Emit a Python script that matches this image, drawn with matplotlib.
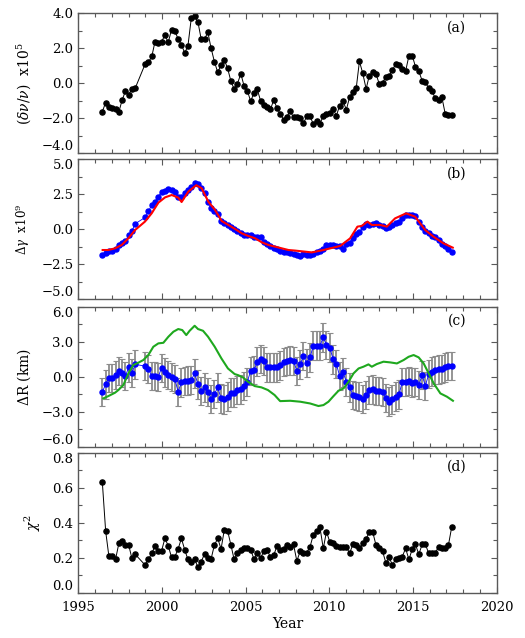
import matplotlib
matplotlib.use('Agg')
import matplotlib.pyplot as plt
from matplotlib.ticker import MultipleLocator, FuncFormatter
import numpy as np

plt.rcParams['font.family'] = ['DejaVu Serif']
plt.rcParams['mathtext.fontset'] = 'dejavuserif'

# observation epochs (72-day series, gap in 1998)
year = [1996.43, 1996.63, 1996.82, 1997.02, 1997.22, 1997.42, 1997.61, 1997.81, 1998.01, 1998.20, 1998.40,
        1998.99, 1999.19, 1999.39, 1999.58, 1999.78, 1999.97, 2000.17, 2000.37, 2000.57, 2000.77,
        2000.96, 2001.16, 2001.36, 2001.55, 2001.75, 2001.95, 2002.15, 2002.34, 2002.54, 2002.74,
        2002.93, 2003.13, 2003.33, 2003.53, 2003.72, 2003.92, 2004.12, 2004.31, 2004.51, 2004.71,
        2004.91, 2005.10, 2005.30, 2005.50, 2005.69, 2005.89, 2006.09, 2006.29, 2006.48, 2006.68,
        2006.88, 2007.07, 2007.27, 2007.47, 2007.66, 2007.86, 2008.06, 2008.26, 2008.45, 2008.65,
        2008.85, 2009.04, 2009.24, 2009.44, 2009.64, 2009.83, 2010.03, 2010.23, 2010.42, 2010.62,
        2010.82, 2011.02, 2011.21, 2011.41, 2011.61, 2011.80, 2012.00, 2012.20, 2012.39, 2012.59,
        2012.79, 2012.99, 2013.18, 2013.38, 2013.58, 2013.77, 2013.97, 2014.17, 2014.36, 2014.56,
        2014.76, 2014.96, 2015.15, 2015.35, 2015.55, 2015.74, 2015.94, 2016.14, 2016.33, 2016.53,
        2016.73, 2016.93, 2017.12, 2017.32]

# (a) frequency shift x1e5
dnu = [-1.62, -1.10, -1.35, -1.41, -1.48, -1.64, -0.97, -0.45, -0.65, -0.31, -0.27,
       1.10, 1.20, 1.54, 2.38, 2.30, 2.36, 2.76, 2.34, 3.07, 3.00,
       2.53, 2.20, 1.73, 2.15, 3.73, 3.83, 3.49, 2.53, 2.53, 2.91,
       2.02, 1.24, 0.63, 1.05, 1.35, 0.86, 0.11, -0.32, -0.02, 0.55,
       -0.17, -0.42, -1.03, -0.53, -0.34, -0.99, -1.24, -1.37, -1.49, -0.95,
       -1.43, -1.75, -2.08, -1.90, -1.60, -1.94, -1.94, -2.00, -2.29, -1.89,
       -1.89, -2.32, -2.17, -2.32, -1.85, -1.75, -1.71, -1.47, -1.85, -1.28,
       -1.03, -1.50, -0.80, -0.51, -0.27, 1.26, 0.57, -0.32, 0.44, 0.63,
       0.53, -0.04, 0.02, 0.38, 0.44, 0.76, 1.10, 1.05, 0.82, 0.69,
       1.58, 1.58, 0.95, 0.69, 0.15, 0.06, -0.27, -0.42, -0.86, -0.95,
       -0.80, -1.75, -1.79, -1.79]

# (b) delta gamma x1e9 (blue points) and model (red)
dgam = [-1.83, -1.67, -1.55, -1.52, -1.43, -1.12, -1.00, -0.84, -0.41, -0.12, 0.40,
        0.85, 1.30, 1.74, 1.98, 2.33, 2.69, 2.76, 2.85, 2.80, 2.64,
        2.33, 2.28, 2.57, 2.80, 3.00, 3.28, 3.21, 2.93, 2.57, 1.98,
        1.50, 1.33, 1.07, 0.59, 0.43, 0.31, 0.19, 0.02, -0.12, -0.24,
        -0.41, -0.41, -0.41, -0.53, -0.57, -0.57, -0.93, -1.07, -1.17, -1.31,
        -1.43, -1.52, -1.60, -1.64, -1.71, -1.76, -1.85, -1.90, -1.80, -1.85,
        -1.83, -1.75, -1.63, -1.58, -1.40, -1.15, -1.12, -1.15, -1.17, -1.17,
        -1.43, -1.08, -0.95, -0.60, -0.35, -0.20, 0.15, 0.35, 0.31, 0.40,
        0.43, 0.33, 0.20, 0.08, 0.15, 0.33, 0.45, 0.53, 0.80, 1.00,
        1.02, 1.00, 0.92, 0.55, 0.15, -0.10, -0.30, -0.47, -0.58, -0.80,
        -1.02, -1.22, -1.40, -1.60]
model_yr = [1996.45, 1996.79, 1997.19, 1997.59, 1997.99, 1998.39, 1998.98, 1999.38, 1999.78,
            2000.18, 2000.58, 2000.97, 2001.17, 2001.57, 2002.05, 2002.37, 2002.77, 2003.17,
            2003.57, 2003.97, 2004.37, 2004.77, 2005.16, 2005.56, 2005.96, 2006.36, 2006.76,
            2007.16, 2007.56, 2007.95, 2008.95, 2009.65, 2010.65, 2011.24, 2011.68, 2011.94,
            2012.28, 2012.54, 2013.04, 2013.44, 2013.93, 2014.59, 2015.13, 2015.73, 2016.23,
            2016.82, 2017.38]
model_gam = [-1.48, -1.48, -1.36, -1.12, -0.64, -0.05, 0.55, 1.14, 1.90,
             2.28, 2.45, 2.26, 1.95, 2.69, 3.15, 2.93, 1.97, 1.38,
             0.59, 0.31, 0.02, -0.29, -0.48, -0.64, -0.93, -1.12, -1.24,
             -1.36, -1.48, -1.52, -1.65, -1.48, -1.19, -0.65, 0.19, 0.24,
             0.55, 0.31, 0.31, 0.19, 0.78, 1.14, 0.90, -0.05, -0.53,
             -1.00, -1.31]

# (c) radius change in km (blue points with errors) and comparison curve (green)
dR = [-1.29, -0.66, -0.09, -0.09, 0.14, 0.49, 0.34, 0.06, 0.80, 0.34, 1.06,
      0.91, 0.66, 0.06, 0.06, 0.00, 0.77, 0.37, 0.14, 0.00, -0.20,
      -1.29, -0.49, -0.37, -0.34, -0.29, 0.29, -0.66, -1.23, -0.91, -1.29,
      -1.91, -1.49, -0.91, -1.86, -1.94, -1.71, -1.37, -1.37, -1.14, -1.09,
      -0.80, -0.43, 0.51, 0.57, 1.29, 1.51, 1.34, 0.80, 0.80, 0.80,
      0.80, 0.97, 1.25, 1.36, 1.40, 1.37, 0.49, 1.06, 1.77, 1.20,
      1.66, 2.66, 2.66, 2.66, 3.37, 2.71, 2.49, 1.49, 1.09, 0.06,
      0.37, -0.43, -0.91, -1.57, -1.66, -1.71, -1.91, -1.57, -1.14, -1.09,
      -1.20, -1.20, -1.29, -1.80, -2.14, -1.94, -1.71, -1.51, -0.43, -0.43,
      -0.37, -0.51, -0.43, -0.71, 0.14, -0.80, 0.23, 0.43, 0.57, 0.63,
      0.66, 0.80, 0.91, 0.91]
dR_err = 1.22
green_yr = [1996.49, 1996.79, 1997.19, 1997.39, 1997.69, 1997.99, 1998.28, 1998.58, 1998.88,
            1999.18, 1999.48, 1999.78, 2000.08, 2000.38, 2000.68, 2000.97, 2001.21, 2001.45,
            2001.65, 2001.95, 2002.15, 2002.45, 2002.75, 2003.15, 2003.55, 2003.94, 2004.34,
            2004.54, 2004.84, 2005.14, 2005.54, 2005.94, 2006.33, 2006.73, 2007.06, 2007.66,
            2008.26, 2008.85, 2009.35, 2009.65, 2009.95, 2010.25, 2010.55, 2010.85, 2011.15,
            2011.45, 2011.75, 2012.04, 2012.34, 2012.54, 2012.84, 2013.24, 2013.64, 2014.04,
            2014.44, 2014.74, 2015.04, 2015.34, 2015.64, 2015.94, 2016.24, 2016.64, 2017.03,
            2017.39]
green_val = [-1.86, -1.66, -1.37, -1.14, -0.71, 0.29, 1.00, 1.20, 1.43,
             1.86, 2.57, 2.86, 2.91, 3.43, 3.86, 4.09, 4.00, 3.57,
             3.94, 4.37, 4.09, 3.94, 3.43, 2.57, 1.57, 0.71, 0.23,
             0.14, -0.06, -0.43, -0.80, -0.91, -1.14, -1.57, -2.09, -2.06,
             -2.14, -2.29, -2.51, -2.43, -2.14, -1.66, -1.20, -1.00, -0.43,
             0.29, 0.71, 0.86, 1.06, 0.86, 1.09, 1.29, 1.23, 1.14,
             1.43, 1.71, 1.86, 1.66, 1.14, 0.29, -0.57, -1.43, -1.71,
             -2.06]

# (d) reduced chi-square
chi2 = [0.634, 0.352, 0.211, 0.210, 0.190, 0.282, 0.295, 0.272, 0.272, 0.196, 0.219,
        0.158, 0.192, 0.225, 0.267, 0.238, 0.238, 0.310, 0.269, 0.202, 0.206,
        0.250, 0.310, 0.244, 0.190, 0.177, 0.190, 0.145, 0.177, 0.221, 0.196,
        0.192, 0.272, 0.310, 0.250, 0.358, 0.354, 0.272, 0.190, 0.225, 0.244,
        0.253, 0.257, 0.244, 0.192, 0.225, 0.196, 0.240, 0.244, 0.202, 0.215,
        0.269, 0.244, 0.250, 0.272, 0.259, 0.276, 0.181, 0.238, 0.225, 0.229,
        0.263, 0.330, 0.352, 0.373, 0.253, 0.349, 0.290, 0.282, 0.267, 0.259,
        0.259, 0.263, 0.225, 0.276, 0.272, 0.253, 0.286, 0.305, 0.349, 0.349,
        0.272, 0.257, 0.238, 0.171, 0.202, 0.158, 0.192, 0.196, 0.206, 0.253,
        0.190, 0.250, 0.276, 0.219, 0.276, 0.278, 0.225, 0.225, 0.225, 0.263,
        0.253, 0.253, 0.272, 0.377]

frame_col = '0.35'


def fmt1(v, pos):
    return ('%.1f' % v).replace('-', '\u2212')


fig = plt.figure(figsize=(5.25, 6.38), dpi=100)
left, width, height = 0.1493, 0.7966, 0.2194
bottoms = [0.7597, 0.5309, 0.2998, 0.0710]
axes = [fig.add_axes([left, b, width, height]) for b in bottoms]

for ax in axes:
    ax.set_xlim(1995, 2020)
    ax.xaxis.set_major_locator(MultipleLocator(5))
    ax.xaxis.set_minor_locator(MultipleLocator(1))
    ax.tick_params(which='both', direction='in', top=True, right=True,
                   color=frame_col, width=0.8, labelsize=9.5)
    ax.tick_params(which='major', length=4)
    ax.tick_params(which='minor', length=3)
    ax.tick_params(axis='x', pad=6)
    ax.yaxis.set_major_formatter(FuncFormatter(fmt1))
    for s in ax.spines.values():
        s.set_color(frame_col)
        s.set_linewidth(1.0)
    if ax is not axes[-1]:
        ax.tick_params(labelbottom=False)

# (a)
ax = axes[0]
ax.plot(year, dnu, '-o', color='black', lw=0.7, ms=3.7)
ax.set_ylim(-4, 4)
ax.yaxis.set_major_locator(MultipleLocator(2))
ax.yaxis.set_minor_locator(MultipleLocator(1))
ax.set_ylabel(r'$(\delta\nu/\nu)$  x10$^5$', fontsize=10)
ax.yaxis.set_label_coords(-0.108, 0.5)
ax.text(0.905, 0.9, '(a)', transform=ax.transAxes, ha='center', va='center', fontsize=10)

# (b)
ax = axes[1]
ax.plot(year, dgam, '-o', color='#0000ff', lw=0.6, ms=3.6)
ax.plot(model_yr, model_gam, '-', color='#ff0000', lw=1.5)
ax.set_ylim(-5, 5)
ax.yaxis.set_major_locator(MultipleLocator(2.5))
ax.yaxis.set_minor_locator(MultipleLocator(1.25))
ax.set_ylabel(r'$\Delta\gamma$  x10$^9$', fontsize=8.5)
ax.yaxis.set_label_coords(-0.112, 0.5)
ax.text(0.905, 0.9, '(b)', transform=ax.transAxes, ha='center', va='center', fontsize=10)

# (c)
ax = axes[2]
eb = ax.errorbar(year, dR, yerr=dR_err, fmt='none', ecolor='0.55', elinewidth=1.3,
                 capsize=2.2, capthick=0.8)
for cap in eb[1]:
    cap.set_color('0.15')
ax.plot(year, dR, '-o', color='#0000ff', lw=0.6, ms=3.6)
ax.plot(green_yr, green_val, '-', color='#1ea81e', lw=1.5)
ax.set_ylim(-6, 6)
ax.yaxis.set_major_locator(MultipleLocator(3))
ax.yaxis.set_minor_locator(MultipleLocator(1.5))
ax.set_ylabel(r'$\Delta$R (km)', fontsize=10)
ax.yaxis.set_label_coords(-0.108, 0.5)
ax.text(0.905, 0.9, '(c)', transform=ax.transAxes, ha='center', va='center', fontsize=10)

# (d)
ax = axes[3]
ax.plot(year, chi2, '-o', color='black', lw=0.7, ms=3.7)
ax.set_ylim(0, 0.8)
ax.yaxis.set_major_locator(MultipleLocator(0.2))
ax.yaxis.set_minor_locator(MultipleLocator(0.1))
ax.set_ylabel(r'$\chi^2$', fontsize=10)
ax.yaxis.set_label_coords(-0.085, 0.5)
ax.set_xlabel('Year', fontsize=10, labelpad=2)
ax.text(0.905, 0.9, '(d)', transform=ax.transAxes, ha='center', va='center', fontsize=10)

# keep stacked end labels apart: lowest label sits above its tick, top label below
fig.canvas.draw()
for i, ax in enumerate(axes):
    lo, hi = ax.get_ylim()
    for lab in ax.get_yticklabels():
        y = lab.get_position()[1]
        if abs(y - lo) < 1e-6:
            lab.set_verticalalignment('bottom')
        if i > 0 and abs(y - hi) < 1e-6:
            lab.set_verticalalignment('top')

fig.savefig('out.png', dpi=100)
